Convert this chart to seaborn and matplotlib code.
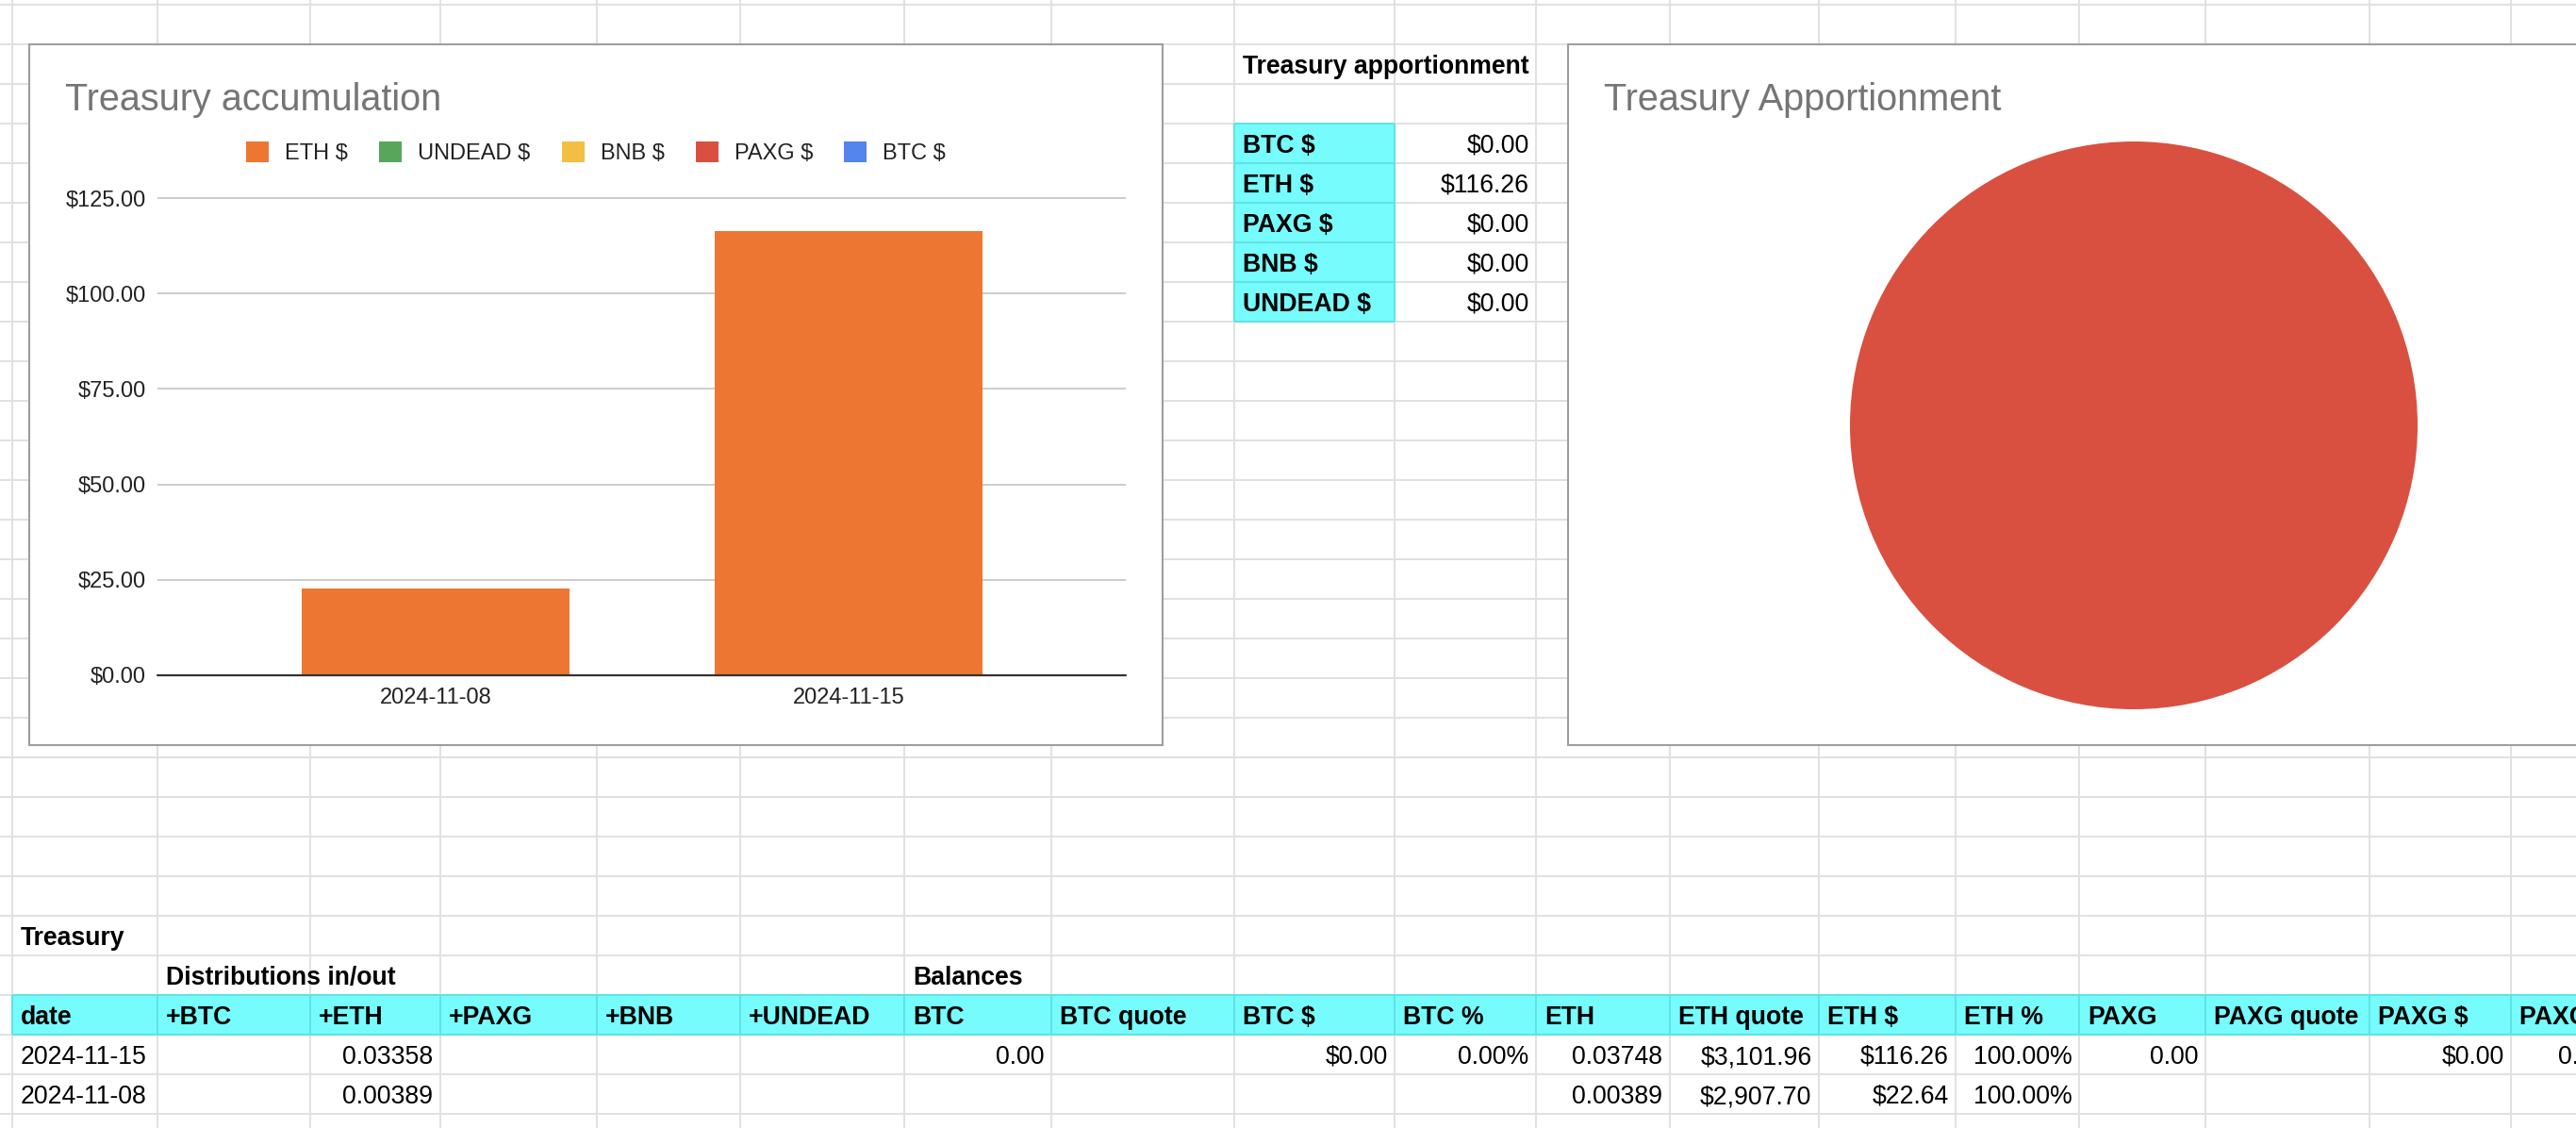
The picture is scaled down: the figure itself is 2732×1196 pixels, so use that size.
import re
import matplotlib
matplotlib.use("Agg")
import matplotlib.pyplot as plt
import seaborn as sns
import pandas as pd
from matplotlib.patches import Rectangle, Patch

# ---------------- data ----------------
dates = ["2024-11-08", "2024-11-15"]
eth_usd = [22.64, 116.26]
undead_usd = [0.0, 0.0]
bnb_usd = [0.0, 0.0]
paxg_usd = [0.0, 0.0]
btc_usd = [0.0, 0.0]
series_names = ["ETH $", "UNDEAD $", "BNB $", "PAXG $", "BTC $"]
series_colors = ["#ED7732", "#58A65C", "#F2BF42", "#D95040", "#5484ED"]
y_ticks = [0, 25, 50, 75, 100, 125]

apport_labels = ["BTC $", "ETH $", "PAXG $", "BNB $", "UNDEAD $"]
apport_values = [0.00, 116.26, 0.00, 0.00, 0.00]
apport_value_text = ["$0.00", "$116.26", "$0.00", "$0.00", "$0.00"]
apport_colors = ["#5484ED", "#D95040", "#F2BF42", "#58A65C", "#ED7732"]

table_header = ["date", "+BTC", "+ETH", "+PAXG", "+BNB", "+UNDEAD", "BTC", "BTC quote",
                "BTC $", "BTC %", "ETH", "ETH quote", "ETH $", "ETH %", "PAXG",
                "PAXG quote", "PAXG $", "PAXG %"]
table_row_a = ["2024-11-15", "", "0.03358", "", "", "", "0.00", "", "$0.00", "0.00%",
               "0.03748", "$3,101.96", "$116.26", "100.00%", "0.00", "", "$0.00", "0.00%"]
table_row_b = ["2024-11-08", "", "0.00389", "", "", "", "", "", "", "",
               "0.00389", "$2,907.70", "$22.64", "100.00%", "", "", "", ""]

# ---------------- layout (pixels) ----------------
W, H = 2732, 1196
col_edges = [13, 167, 329, 467, 633, 785, 959, 1115, 1309, 1479, 1629, 1771,
             1929, 2074, 2205, 2339, 2513, 2663, 2796]
row_edges = [5 + 42 * k for k in range(30)]

sns.set_theme(style="white")
FONT = ["Liberation Sans", "DejaVu Sans"]
plt.rcParams["font.family"] = FONT

fig = plt.figure(figsize=(W / 100, H / 100), dpi=100)
fig.patch.set_facecolor("white")
bg = fig.add_axes([0, 0, 1, 1])
bg.set_xlim(0, W)
bg.set_ylim(H, 0)
bg.axis("off")


def px_axes(x0, y0, x1, y1):
    return fig.add_axes([x0 / W, 1 - y1 / H, (x1 - x0) / W, (y1 - y0) / H])


GRID = "#e1e1e1"
CYAN = "#76fcfd"
CYAN_EDGE = "#5fe2e4"
LW = 1.4

# spreadsheet grid
bg.vlines(col_edges, 0, H, color=GRID, lw=LW, zorder=1)
bg.hlines(row_edges, 0, W, color=GRID, lw=LW, zorder=1)

# cyan cells: apportionment labels
ap_rows = [131 + 42 * i for i in range(len(apport_labels))]
bg.add_patch(Rectangle((col_edges[8], ap_rows[0]), col_edges[9] - col_edges[8],
                       42 * len(apport_labels), fc=CYAN, ec="none", zorder=2))
bg.hlines(ap_rows + [ap_rows[-1] + 42], col_edges[8], col_edges[9], color=CYAN_EDGE, lw=LW, zorder=3)
bg.vlines([col_edges[8], col_edges[9]], ap_rows[0], ap_rows[-1] + 42, color=CYAN_EDGE, lw=LW, zorder=3)

# cyan header row of bottom table
hdr_top = 1055
bg.add_patch(Rectangle((col_edges[0], hdr_top), W, 42, fc=CYAN, ec="none", zorder=2))
bg.hlines([hdr_top, hdr_top + 42], col_edges[0], W, color=CYAN_EDGE, lw=LW, zorder=3)
bg.vlines(col_edges, hdr_top, hdr_top + 42, color=CYAN_EDGE, lw=LW, zorder=3)

CELL_FS = 19.15
PAD_L, PAD_R = 9, 7.5
date_re = re.compile(r"^\d{4}-\d{2}-\d{2}$")


def cell_text(ci, row_top, s, bold=False, align=None):
    if not s:
        return
    if align is None:
        align = "left" if (date_re.match(s) or not re.match(r"^[\$\d\-]", s)) else "right"
    x = col_edges[ci] + PAD_L if align == "left" else col_edges[ci + 1] - PAD_R
    bg.text(x, row_top + 31, s, ha=align, va="baseline", fontsize=CELL_FS,
            fontweight="bold" if bold else "normal", color="black",
            family=FONT, zorder=6)


# apportionment table
cell_text(8, 47, "Treasury apportionment", bold=True, align="left")
for r, lab, val in zip(ap_rows, apport_labels, apport_value_text):
    cell_text(8, r, lab, bold=True, align="left")
    cell_text(9, r, val, align="right")

# bottom table
cell_text(0, 971, "Treasury", bold=True, align="left")
cell_text(1, 1013, "Distributions in/out", bold=True, align="left")
cell_text(6, 1013, "Balances", bold=True, align="left")
for ci, s in enumerate(table_header):
    cell_text(ci, hdr_top, s, bold=True, align="left")
for ci, s in enumerate(table_row_a):
    cell_text(ci, 1097, s)
for ci, s in enumerate(table_row_b):
    cell_text(ci, 1139, s)

# chart boxes
BOX_EC = "#9e9e9e"
bg.add_patch(Rectangle((31, 47), 1233 - 31, 790 - 47, fc="white", ec=BOX_EC, lw=1.5, zorder=5))
bg.add_patch(Rectangle((1663, 47), 1200, 790 - 47, fc="white", ec=BOX_EC, lw=1.5, zorder=5))

bg.text(69, 117, "Treasury accumulation", fontsize=28.5, color="#757575",
        family=FONT, va="baseline", ha="left", zorder=6)
bg.text(1701, 117, "Treasury Apportionment", fontsize=28.5, color="#757575",
        family=FONT, va="baseline", ha="left", zorder=6)

# ---------------- bar chart ----------------
df = pd.DataFrame({"date": dates, "ETH $": eth_usd, "UNDEAD $": undead_usd,
                   "BNB $": bnb_usd, "PAXG $": paxg_usd, "BTC $": btc_usd})
ax = px_axes(167, 202, 1194, 716)
ax.set_facecolor("none")
for name, col in zip(series_names, series_colors):
    sns.barplot(data=df, x="date", y=name, order=dates, color=col, width=0.648,
                saturation=1, errorbar=None, linewidth=0, ax=ax, zorder=2)
ax.set_xlim(-0.6735, 1.6712)
ax.set_ylim(0, 127)
ax.set_yticks(y_ticks)
ax.set_yticklabels([f"${v:,.2f}" for v in y_ticks])
ax.set_xlabel("")
ax.set_ylabel("")
for sp in ax.spines.values():
    sp.set_visible(False)
ax.yaxis.grid(True, color="#cccccc", lw=1.4)
ax.xaxis.grid(False)
ax.set_axisbelow(True)
ax.axhline(0, color="#333333", lw=1.6, zorder=4, clip_on=False)
ax.tick_params(axis="y", length=0, pad=8.6, labelsize=17, labelcolor="#222222")
ax.tick_params(axis="x", length=0, pad=9.5, labelsize=17, labelcolor="#222222")
for lbl in ax.get_xticklabels() + ax.get_yticklabels():
    lbl.set_family(FONT)

handles = [Patch(facecolor=c, edgecolor="none") for c in series_colors]
leg = fig.legend(handles, series_names, loc="center", bbox_to_anchor=(632 / W, 1 - 162 / H),
                 ncol=5, frameon=False, handlelength=1.02, handleheight=1.02,
                 handletextpad=0.72, columnspacing=1.4, borderaxespad=0, borderpad=0,
                 prop={"family": FONT, "size": 17})
for t in leg.get_texts():
    t.set_color("#222222")

# ---------------- pie chart ----------------
cx, cy, R = 2263, 451, 301
pax = px_axes(cx - 350, cy - 350, cx + 350, cy + 350)
pax.set_facecolor("none")
pax.pie(apport_values, colors=apport_colors, startangle=90, counterclock=False,
        wedgeprops=dict(linewidth=0))
pax.set_xlim(-350 / R, 350 / R)
pax.set_ylim(-350 / R, 350 / R)
pax.set_aspect("equal")
pax.axis("off")

fig.savefig("out.png", dpi=100, facecolor="white")
